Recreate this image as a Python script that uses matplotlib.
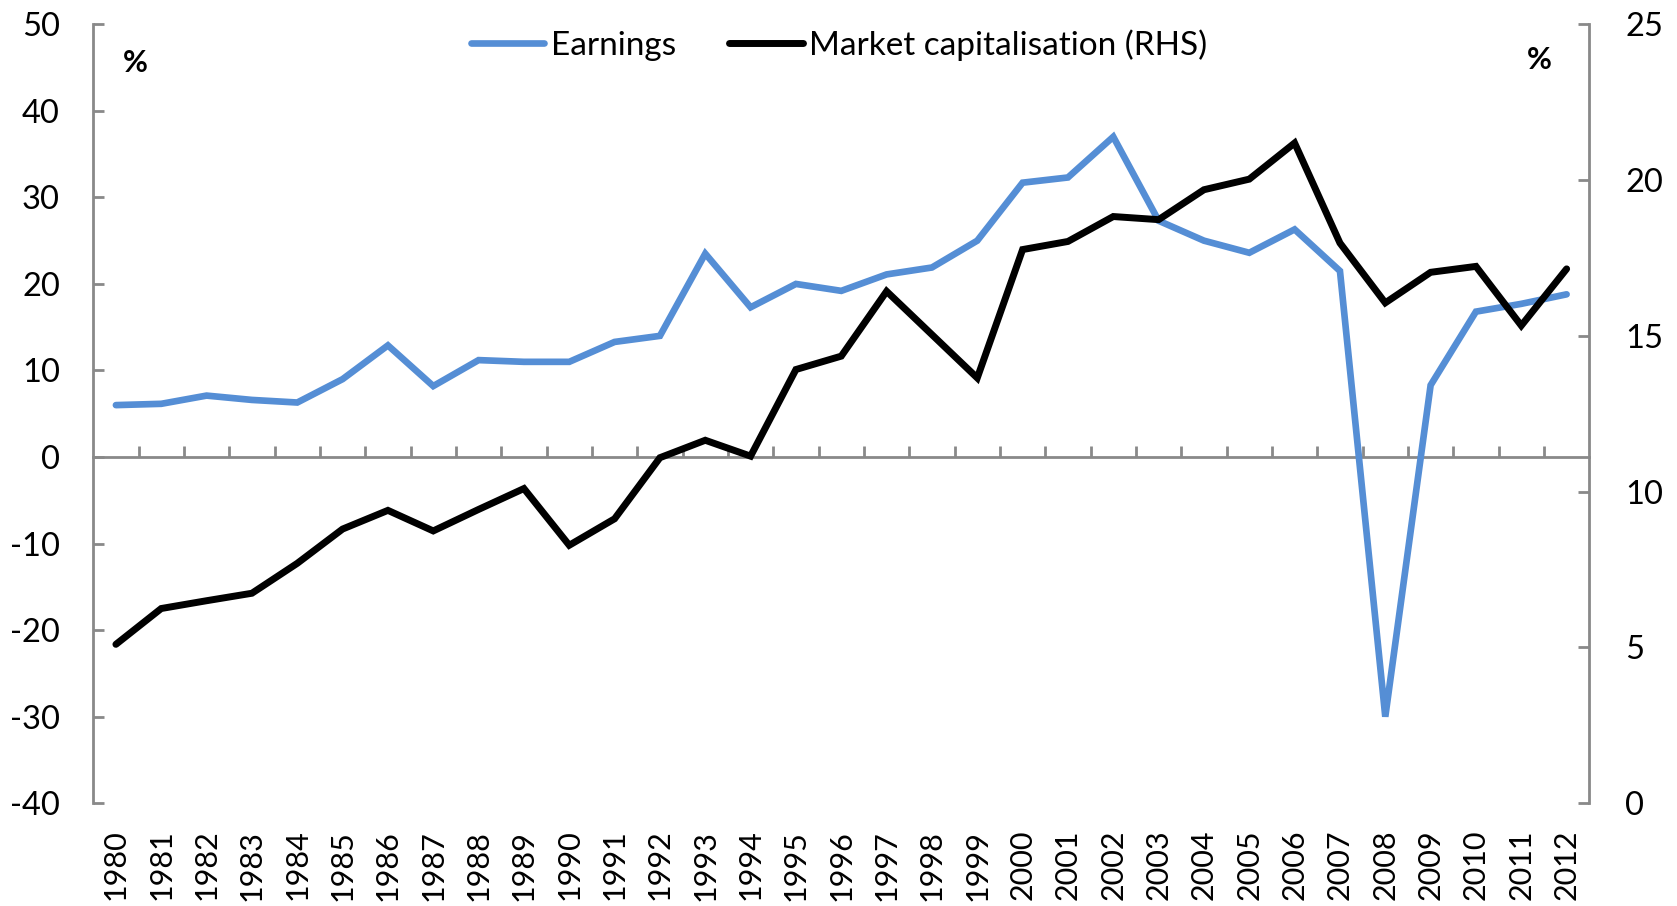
import matplotlib
matplotlib.use("Agg")
import matplotlib.pyplot as plt
import numpy as np

plt.rcParams['font.family'] = ['Lato', 'DejaVu Sans']
plt.rcParams['axes.unicode_minus'] = False

years = [str(y) for y in range(1980, 2013)]
earnings = [6.0, 6.15, 7.1, 6.6, 6.3, 9.0, 12.9, 8.2, 11.2, 11.0,
            11.0, 13.3, 14.0, 23.5, 17.3, 20.0, 19.2, 21.1, 21.9, 25.0,
            31.7, 32.3, 37.0, 27.3, 25.0, 23.6, 26.3, 21.5, -30.0, 8.3,
            16.8, 17.7, 18.8]
market_cap = [5.1, 6.25, 6.5, 6.74, 7.7, 8.8, 9.4, 8.74, 9.43, 10.1,
              8.28, 9.13, 11.09, 11.65, 11.14, 13.92, 14.35, 16.43, 15.04, 13.65,
              17.77, 18.03, 18.83, 18.73, 19.69, 20.03, 21.19, 17.98, 16.06, 17.04,
              17.23, 15.33, 17.15]
left_ticks = [-40, -30, -20, -10, 0, 10, 20, 30, 40, 50]
right_ticks = [0, 5, 10, 15, 20, 25]

BLUE = "#558ed5"
GREY = "#898989"
FS = 23.5

fig = plt.figure(figsize=(16.77, 9.06), dpi=100)
ax = fig.add_axes([0.0556, 0.1134, 0.8921, 0.8598])
ax2 = ax.twinx()

x = np.arange(len(years))

# -----------------------------
# series
# -----------------------------
ax.plot(x, earnings, color=BLUE, lw=4.8, solid_capstyle="round",
        solid_joinstyle="miter", label="Earnings")
ax2.plot(x, market_cap, color="black", lw=5.0, solid_capstyle="round",
         solid_joinstyle="miter", label="Market capitalisation (RHS)")

# -----------------------------
# axes
# -----------------------------
ax.set_xlim(-0.5, len(years) - 0.5)
ax.set_ylim(-40, 50)
ax2.set_ylim(0, 25)
ax.set_yticks(left_ticks)
ax2.set_yticks(right_ticks)
ax.set_xticks(x)
ax.set_xticklabels(years, rotation=90)

for a in (ax, ax2):
    for side in ("top", "bottom"):
        a.spines[side].set_visible(False)
ax.spines["right"].set_visible(False)
ax2.spines["left"].set_visible(False)
ax.spines["left"].set_color(GREY)
ax.spines["left"].set_linewidth(2)
ax2.spines["right"].set_color(GREY)
ax2.spines["right"].set_linewidth(2)

ax.tick_params(axis="y", direction="in", length=7.7, width=2, color=GREY,
               labelsize=FS, pad=24)
ax2.tick_params(axis="y", direction="in", length=7.7, width=2, color=GREY,
                labelsize=FS, pad=26)
ax.tick_params(axis="x", length=0, labelsize=22, pad=19)

# zero line with category ticks
zero_frac = (0 - (-40)) / (50 - (-40))
sec = ax.secondary_xaxis(zero_frac)
sec.set_xticks(np.arange(0.5, len(years) - 0.5, 1.0))
sec.tick_params(axis="x", direction="in", length=7.7, width=2, color=GREY,
                labelbottom=False)
sec.spines["bottom"].set_color(GREY)
sec.spines["bottom"].set_linewidth(2)

# unit labels
ax.text(0.0279, 0.950, "%", transform=ax.transAxes, ha="center", va="center",
        fontsize=22, fontweight="bold")
ax.text(0.9664, 0.954, "%", transform=ax.transAxes, ha="center", va="center",
        fontsize=22, fontweight="bold")

# legend
h1, l1 = ax.get_legend_handles_labels()
h2, l2 = ax2.get_legend_handles_labels()
ax2.legend(h1 + h2, l1 + l2, loc="center", bbox_to_anchor=(0.4985, 0.9735),
           ncol=2, frameon=False, fontsize=FS + 0.5, handlelength=2.2,
           handletextpad=0.2, columnspacing=1.6, borderpad=0)

fig.savefig("out.png", dpi=100)
